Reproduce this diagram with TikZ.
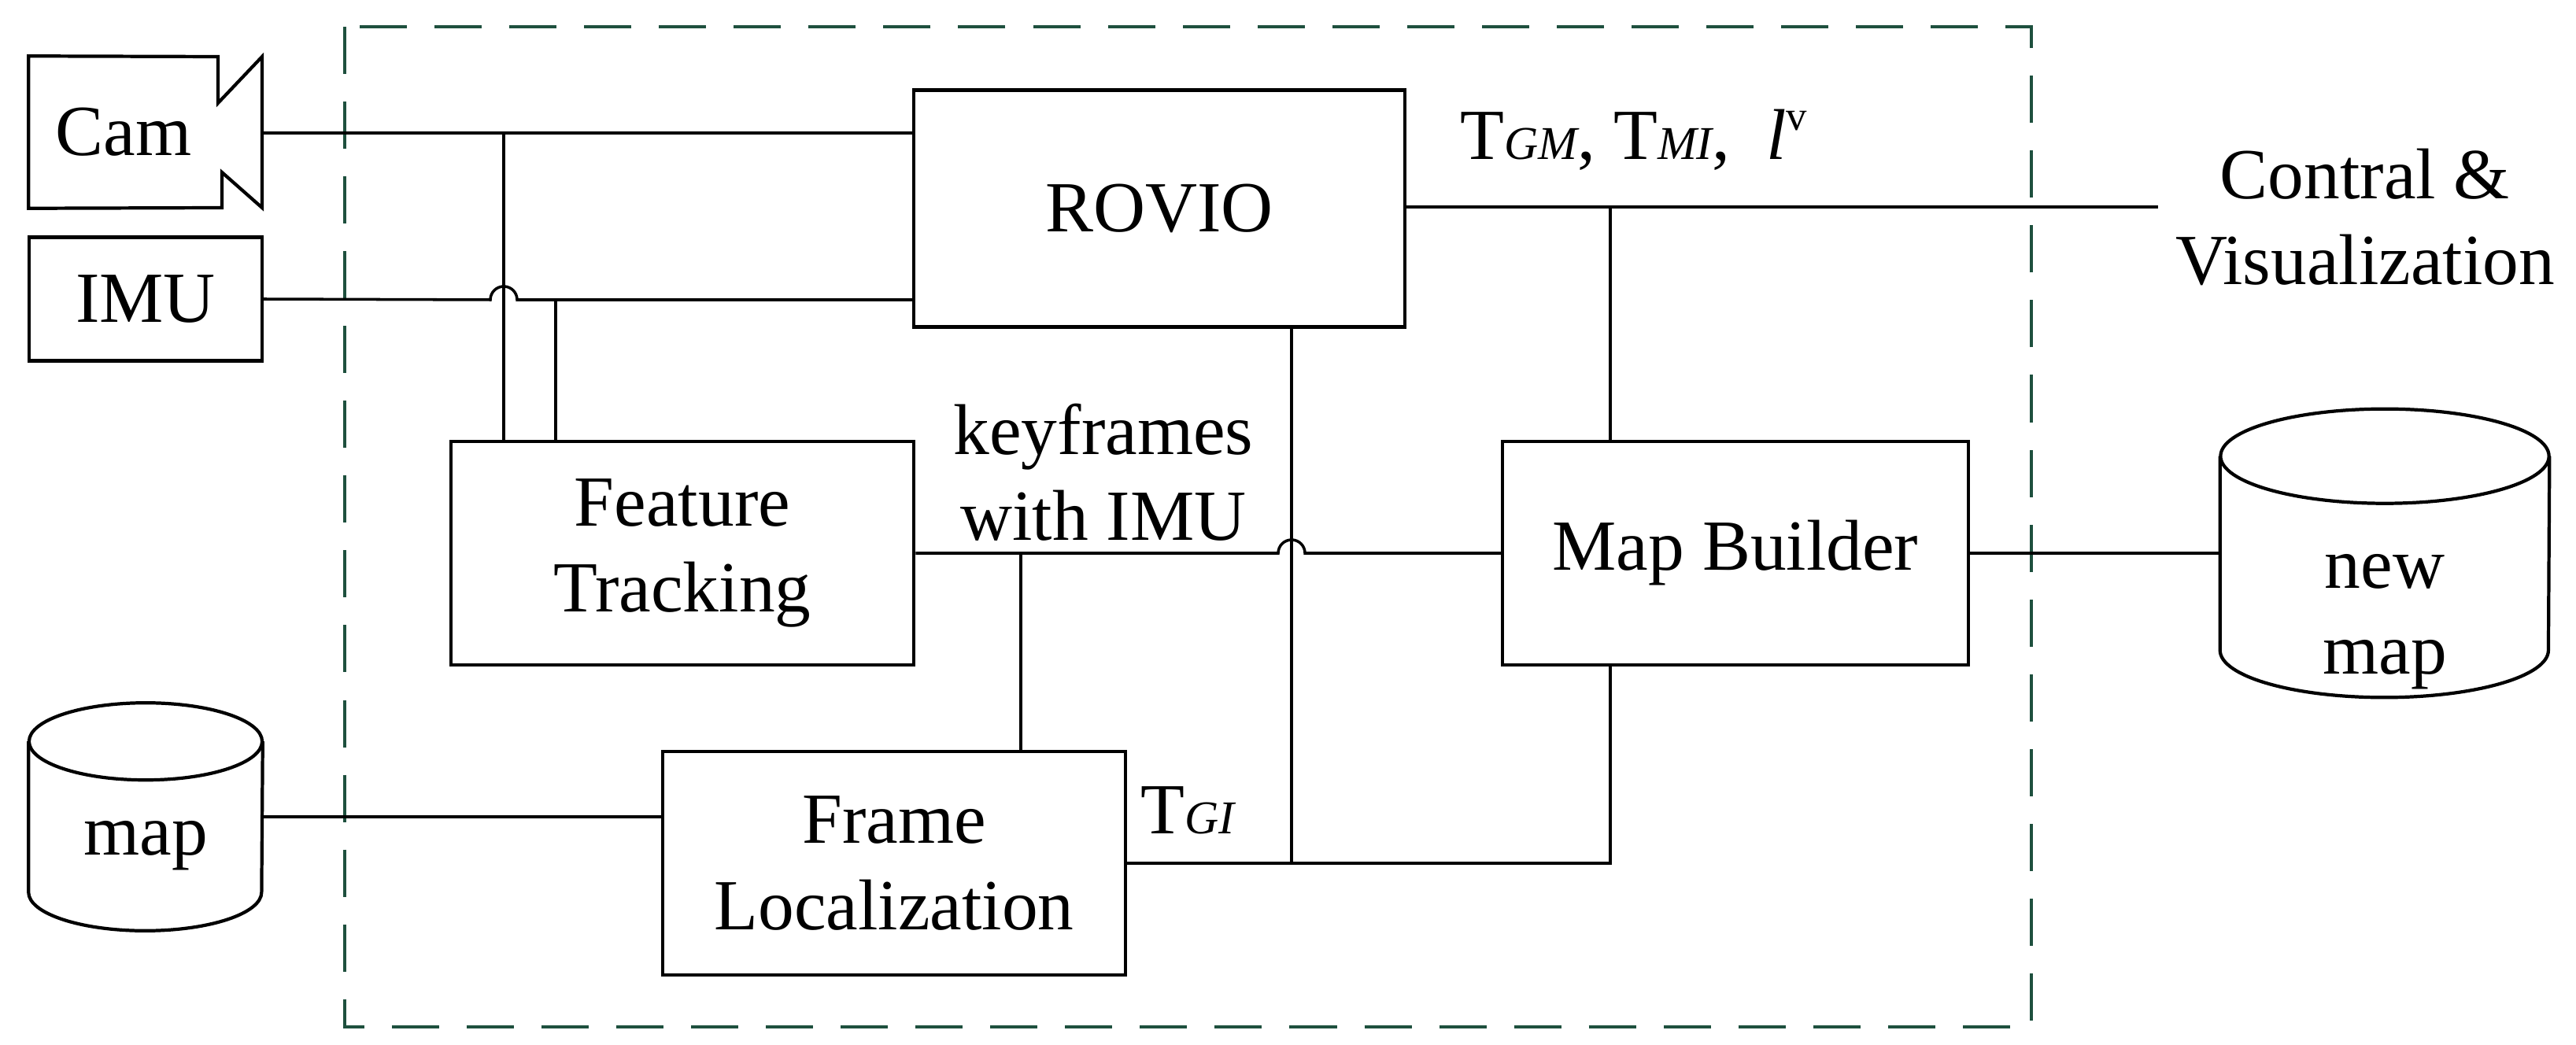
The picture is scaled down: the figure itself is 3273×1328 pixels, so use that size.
\documentclass[tikz,border=0pt]{standalone}
\usepackage{fontspec}
\setmainfont{LiberationSerif}[Extension=.ttf, UprightFont=*-Regular, ItalicFont=*-Italic, BoldFont=*-Bold]
\usetikzlibrary{positioning,calc}
\definecolor{boxgreen}{RGB}{30,80,62}
\tikzset{
	%estils
	blk/.style = {rectangle, draw=black, line width=1.2pt, align=center,
                      font=\fontsize{26}{31}\selectfont, inner sep=0pt},
	free/.style = {rectangle, draw=none, align=center,
                      font=\fontsize{26}{31}\selectfont, inner sep=0pt},
	wire/.style = {draw=black, line width=1pt}
}
\newcommand{\subT}[1]{T{\fontsize{17}{17}\selectfont\itshape #1}}

\begin{document}
\begin{tikzpicture}[x=0.01cm, y=-0.01cm]
	\useasboundingbox (0,0) rectangle (3273,1328);
	%marc
	\draw[boxgreen, line width=1.1pt, dash pattern=on 0.6cm off 0.35cm]
		(438,34) rectangle (2581,1305);
	%nodes
	\node[free, minimum width=2.40cm, minimum height=1.92cm] (cam) at (157,168) {Cam};
	\node[blk, minimum width=2.96cm, minimum height=1.57cm] (imu) at (185,380) {IMU};
	\node[blk, minimum width=6.24cm, minimum height=3.01cm] (rovio) at (1473,265) {ROVIO};
	\node[blk, minimum width=5.88cm, minimum height=2.84cm] (ft) at (867,703) {Feature\\Tracking};
	\node[blk, minimum width=5.88cm, minimum height=2.84cm] (fl) at (1136,1097) {Frame\\Localization};
	\node[blk, minimum width=5.91cm, minimum height=2.84cm] (mb) at (2205,703) {Map Builder};
	\node[free, minimum width=2.96cm, minimum height=2.88cm] (map) at (185,1038) {};
	\node[free, minimum width=4.17cm, minimum height=3.65cm] (newmap) at (3030,703) {};
	\node[free] (kf) at (1402,600) {keyframes\\with IMU};
	\node[free, anchor=base west] (tgi) at (1449,1059) {\subT{GI}};
	\node[free, anchor=base west] (tout) at (1855,203) {\subT{GM}, \subT{MI}, \ {\itshape l}\raisebox{0.9ex}{\fontsize{15}{15}\selectfont v}};
	\node[free] (vis) at (3005,276) {Contral \&\\Visualization};
	%formes
	\draw[line width=1.2pt] (cam.north west) -- (277,72) -- (277,131) -- (333,72)
		-- (333,264) -- (282,219) -- (282,264) -- (cam.south west) -- cycle;
	\draw[line width=1.2pt] ($(map.north west)+(0,49)$) -- ($(map.south west)+(0,-49)$)
		arc[start angle=180, end angle=360, x radius=1.48cm, y radius=0.49cm]
		-- ($(map.north east)+(0,49)$);
	\draw[line width=1.2pt] ($(map.north)+(0,49)$) ellipse[x radius=1.48cm, y radius=0.49cm];
	\draw[line width=1.2pt] ($(newmap.north west)+(0,60)$) -- ($(newmap.south west)+(0,-60)$)
		arc[start angle=180, end angle=360, x radius=2.085cm, y radius=0.6cm]
		-- ($(newmap.north east)+(0,60)$);
	\draw[line width=1.2pt] ($(newmap.north)+(0,60)$) ellipse[x radius=2.085cm, y radius=0.6cm];
	\node[free] (maptxt) at (185,1075) {map};
	\node[free] (newmaptxt) at (3030,790) {new\\map};
	%connexions
	\draw[wire] (333,169) -- (1161,169);
	\draw[wire] (imu.east) -- (623,381) arc[start angle=180, end angle=0, radius=0.17cm]
		-- (1161,381);
	\draw[wire] (640,169) -- (640,561);
	\draw[wire] (706,381) -- (706,561);
	\draw[wire] (ft.east) -- (1624,703) arc[start angle=180, end angle=0, radius=0.17cm]
		-- (mb.west);
	\draw[wire] (1297,703) -- (1297,955);
	\draw[wire] (map.east) -- (map.east -| fl.west);
	\draw[wire] (1641,415) -- (1641,1097);
	\draw[wire] (1430,1097) -- (2046,1097) -- (2046,845);
	\draw[wire] (1785,263) -- (2742,263);
	\draw[wire] (2046,263) -- (2046,561);
	\draw[wire] (mb.east) -- (newmap.west);
\end{tikzpicture}
\end{document}
